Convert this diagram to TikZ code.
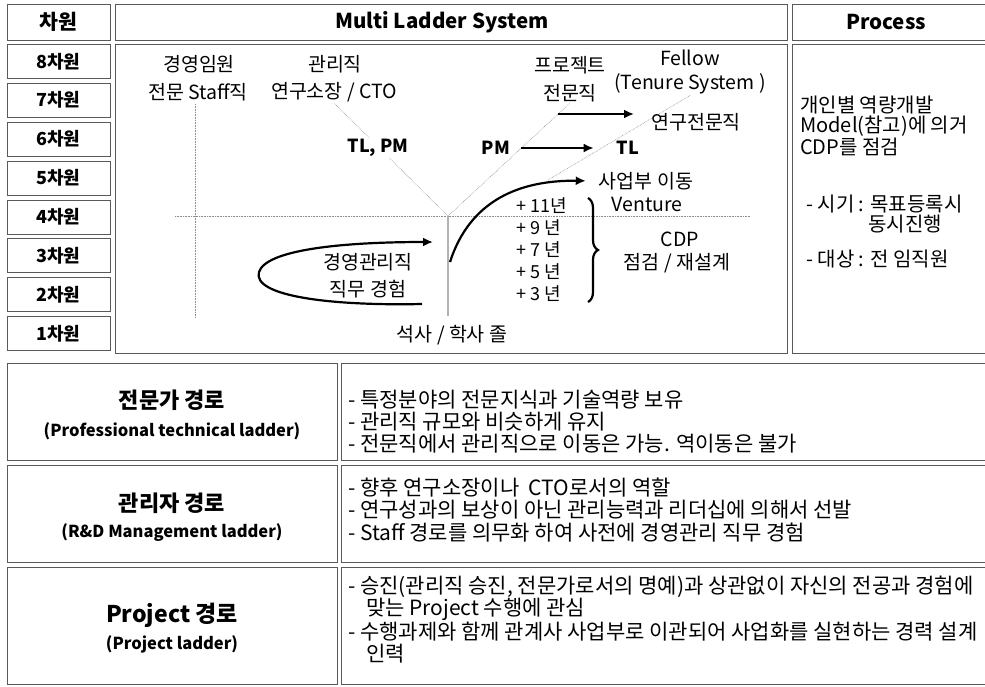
\documentclass[tikz,border=0pt]{standalone}
\usepackage{fontspec}
\setmainfont{Noto Sans CJK KR}
\usetikzlibrary{arrows.meta,decorations.pathreplacing}
\begin{document}
\begin{tikzpicture}[x=1pt,y=-1pt,
  frame/.style={draw=black!65, line width=0.8pt, inner sep=0pt},
  hdr/.style={inner sep=1pt, font=\bfseries\fontsize{20.5}{23}\selectfont},
  lvl/.style={frame, minimum width=103pt, minimum height=34pt, font=\bfseries\fontsize{18}{20}\selectfont},
  txt/.style={inner sep=1pt, font=\fontsize{19.5}{22}\selectfont},
  ytxt/.style={inner sep=1pt, font=\fontsize{18}{20}\selectfont},
  btxt/.style={inner sep=1pt, font=\bfseries\fontsize{18}{20}\selectfont},
  para/.style={inner sep=0pt, anchor=north west, align=left, font=\fontsize{21}{22.2}\selectfont},
  ppara/.style={inner sep=0pt, anchor=north west, align=left, font=\fontsize{20}{20}\selectfont},
  faint/.style={draw=black!45, line width=0.6pt, densely dotted},
  arr/.style={line width=2.2pt, -{Latex[length=10pt,width=9pt]}},
]
\useasboundingbox (0,0) rectangle (985,686);
\fill[white] (0,0) rectangle (985,686);

% ---------- header row ----------
\node[frame, minimum width=103pt, minimum height=36pt, hdr] (hcha) at (58.5,22) {차원};
\node[frame, minimum width=672pt, minimum height=36pt] (hml) at (451,22) {};
\node[hdr] (hmlt) at (442,22) {Multi Ladder System};
\node[frame, minimum width=200pt, minimum height=36pt] (hpr) at (892,22) {};
\node[hdr] (hprt) at (886,22) {Process};

% ---------- level column ----------
\foreach \i/\t in {0/8,1/7,2/6,3/5,4/4,5/3,6/2,7/1}{
  \node[lvl] (lv\t) at (58.5,{61.3+38.9*\i}) {\t{}차원};
}

% ---------- panels ----------
\node[frame, minimum width=672pt, minimum height=309pt] (mlbody) at (451,198.5) {};
\node[frame, minimum width=200pt, minimum height=309pt] (prbody) at (892,198.5) {};

% ---------- ladder texts ----------
\node[txt] (gyeong) at (199,64) {경영임원};
\node[txt] (staff) at (198,92) {전문 Staff직};
\node[txt] (gwan) at (335,64) {관리직};
\node[txt] (cto) at (334,92) {연구소장 / CTO};
\node[txt] (proj) at (570,65) {프로젝트};
\node[txt] (jmj) at (570,93) {전문직};
\node[txt] (fellow) at (690,58) {Fellow};
\node[txt] (tenure) at (690,84) {(Tenure System )};

% faint guide lines
\coordinate (vtop) at (195,104);
\coordinate (vbot) at (195,318);
\draw[faint] (vtop) -- (vbot);
\coordinate (hl) at (175,216);
\coordinate (hr) at (750,216);
\draw[faint] (hl) -- (hr);
\coordinate (jn) at (448,216);
\coordinate (jb) at (448,316);
\draw[draw=black!30, line width=2.5pt] (jn) -- (jb);
\draw[faint] (jn) -- (cto.south);
\draw[faint] (jn) -- (jmj.south);
\coordinate (d3a) at (548,180);
\draw[faint] (d3a) -- (tenure.south);

\node[btxt, fill=white] (tlpm) at (378,148) {TL, PM};
\node[btxt] (pm) at (496,148) {PM};
\node[btxt] (tl) at (628,148) {TL};
\node[txt, anchor=west] (rsj) at (650,122) {연구전문직};
\node[txt] (sabu) at (646,181) {사업부 이동};
\node[txt] (venture) at (647,204) {Venture};
\node[txt] (cdp) at (680,239) {CDP};
\node[txt] (jaeseol) at (677,263) {점검 / 재설계};
\node[txt] (gmj) at (368,262) {경영관리직};
\node[txt] (jmgh) at (368,289) {직무 경험};
\node[txt] (seoksa) at (452,335) {석사 / 학사 졸};

\foreach \k/\t in {0/{+ 11년},1/{+ 9 년},2/{+ 7 년},3/{+ 5 년},4/{+ 3 년}}{
  \node[ytxt, anchor=west] (yr\k) at (515,{206+21.8*\k}) {\t};
}

% arrows
\coordinate (ua1) at (558,114);
\coordinate (ua2) at (634,114);
\draw[arr] (ua1) -- (ua2);
\draw[arr, shorten <=10pt, shorten >=22pt] (pm.east) -- (tl.west);
\coordinate (cs) at (450,262);
\draw[arr, shorten >=12pt] (cs) .. controls (470,200) and (520,180) .. (sabu.west);
\coordinate (ls) at (422,304);
\coordinate (le) at (433,242);
\draw[arr] (ls) .. controls (330,306) and (252,296) .. (259,272) .. controls (266,250) and (340,242) .. (le);
\coordinate (bt) at (588,198);
\coordinate (bb) at (588,302);
\draw[line width=2.2pt, decorate, decoration={brace, amplitude=10pt}] (bt) -- (bb);

% process column
\node[ppara] (proc1) at (800,96) {개인별 역량개발\\Model(참고)에 의거\\CDP를 점검};
\node[ppara] (proc2) at (806,195) {- 시기 : 목표등록시\\\hspace*{62pt}동시진행};
\node[ppara] (proc3) at (806,250) {- 대상 : 전 임직원};

% ---------- lower table ----------
\node[frame, minimum width=330pt, minimum height=97pt] (r1l) at (172,411.5) {};
\node[frame, minimum width=651pt, minimum height=97pt] (r1r) at (666.5,411.5) {};
\node[frame, minimum width=330pt, minimum height=97pt] (r2l) at (172,513.5) {};
\node[frame, minimum width=651pt, minimum height=97pt] (r2r) at (666.5,513.5) {};
\node[frame, minimum width=330pt, minimum height=117pt] (r3l) at (172,625.5) {};
\node[frame, minimum width=651pt, minimum height=117pt] (r3r) at (666.5,625.5) {};

\node[inner sep=1pt, font=\bfseries\fontsize{22}{24}\selectfont] (t1) at (172,400) {전문가 경로};
\node[inner sep=1pt, font=\bfseries\fontsize{16.5}{18}\selectfont] (s1) at (172,431) {(Professional technical ladder)};
\node[inner sep=1pt, font=\bfseries\fontsize{22}{24}\selectfont] (t2) at (172,503) {관리자 경로};
\node[inner sep=1pt, font=\bfseries\fontsize{16.5}{18}\selectfont] (s2) at (172,533) {(R\&D Management ladder)};
\node[inner sep=1pt, font=\bfseries\fontsize{23}{24}\selectfont] (t3) at (172,615) {Project 경로};
\node[inner sep=1pt, font=\bfseries\fontsize{16.5}{18}\selectfont] (s3) at (172,644) {(Project ladder)};

\node[para] (b1) at (348,390) {- 특정분야의 전문지식과 기술역량 보유\\- 관리직 규모와 비슷하게 유지\\- 전문직에서 관리직으로 이동은 가능. 역이동은 불가};
\node[para] (b2) at (348,478) {- 향후 연구소장이나 \ CTO로서의 역할\\- 연구성과의 보상이 아닌 관리능력과 리더십에 의해서 선발\\- Staff 경로를 의무화 하여 사전에 경영관리 직무 경험};
\node[para] (b3) at (348,576) {- 승진(관리직 승진, 전문가로서의 명예)과 상관없이 자신의 전공과 경험에\\\hspace*{18pt}맞는 Project 수행에 관심\\- 수행과제와 함께 관계사 사업부로 이관되어 사업화를 실현하는 경력 설계\\\hspace*{18pt}인력};
\end{tikzpicture}
\end{document}
